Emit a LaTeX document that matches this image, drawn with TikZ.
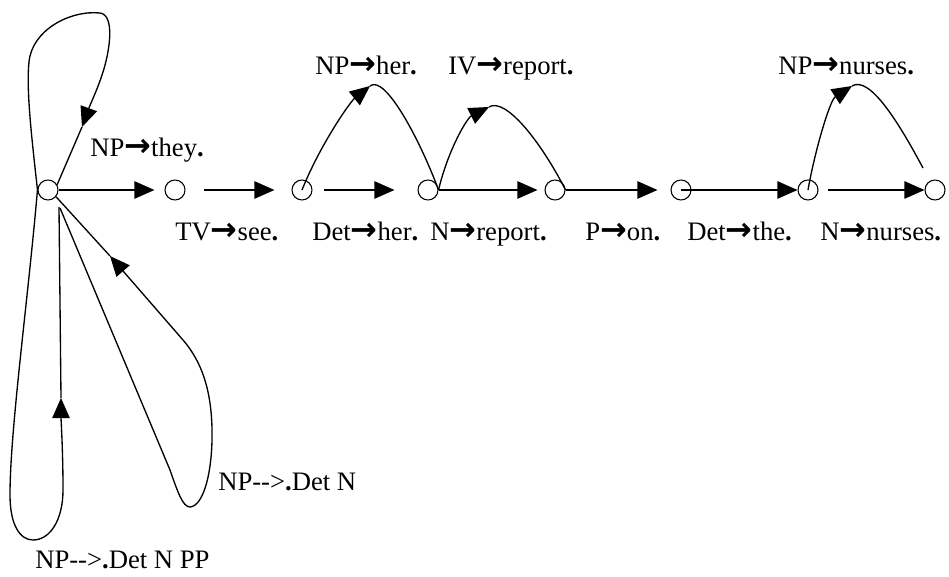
\documentclass[tikz,border=0pt]{standalone}
\usepackage{fontspec}
\setmainfont{Liberation Serif}
\newfontfamily\arrowfont{DejaVu Sans}[Scale=1.2]
\usetikzlibrary{arrows.meta}
\newcommand{\garr}{{\arrowfont\bfseries →}}
\newcommand{\bdot}{{\bfseries .}}
\begin{document}
\begin{tikzpicture}[x=0.75pt,y=-0.75pt,
  st/.style={circle,draw,line width=0.8pt,minimum size=15pt,inner sep=0pt},
  edge/.style={line width=1pt,-{Triangle[length=15pt,width=13pt]}},
  plain/.style={line width=1pt},
  lab/.style={anchor=base west,inner sep=0pt,font=\fontsize{20}{24}\selectfont}]
\useasboundingbox (0,0) rectangle (949,577);
% states
\node[st] (n0) at (48,190) {};
\node[st] (n1) at (175,190) {};
\node[st] (n2) at (302,190) {};
\node[st] (n3) at (428,190) {};
\node[st] (n4) at (555,190) {};
\node[st] (n5) at (681,190) {};
\node[st] (n6) at (808,190) {};
\node[st] (n7) at (935,190) {};
% horizontal transitions
\draw[edge,shorten >=7.5pt] (n0) -- (n1);
\draw[edge,shorten <=13.5pt,shorten >=12.75pt] (n1) -- (n2);
\draw[edge,shorten <=8.25pt,shorten >=17.25pt] (n2) -- (n3);
\draw[edge,shorten >=5.25pt] (n3) -- (n4);
\draw[edge,shorten >=9.75pt] (n4) -- (n5);
\draw[edge] (n5.center) -- (n6);
\draw[edge,shorten <=6.75pt] (n6) -- (n7);
% arcs above
\coordinate (p1) at (370,86);
\draw[edge] (n2.center) .. controls (320,145) and (350,102) .. (p1);
\draw[plain] (p1) .. controls (385,74) and (420,140) .. (n3.east);
\coordinate (p2) at (489,107);
\draw[edge] (n3.east) .. controls (448,150) and (467,118) .. (p2);
\draw[plain] (p2) .. controls (505,97) and (540,140) .. (n4.east);
\coordinate (p3) at (852,86);
\coordinate (e3) at (923,168);
\draw[edge] (n6.center) .. controls (815,150) and (830,100) .. (p3);
\draw[plain] (p3) .. controls (870,75) and (900,125) .. (e3);
% top loop
\coordinate (t1) at (82,127);
\draw[edge] (n0.west) .. controls (32,140) and (26,90) .. (29,62) .. controls (32,30) and (70,10) .. (100,13) .. controls (115,15) and (110,50) .. (103,72) .. controls (98,88) and (90,105) .. (t1);
\draw[plain] (t1) -- (n0.30);
% bottom loop
\coordinate (b1) at (61,398);
\coordinate (b2) at (59,207);
\draw[edge] (n0.west) .. controls (28,300) and (10,430) .. (10,495) .. controls (10,525) and (20,540) .. (33,540) .. controls (50,540) and (63,520) .. (63,490) .. controls (63,450) and (61,420) .. (b1);
\draw[plain] (b1) -- (b2);
% third loop
\coordinate (c0) at (60,208);
\coordinate (c1) at (110,256);
\draw[edge] (c0) -- (170,470) .. controls (178,493) and (183,507) .. (190,507) .. controls (204,506) and (213,470) .. (212,428) .. controls (211,390) and (202,362) .. (183,340) -- (c1);
\draw[plain] (c1) -- (n0.-40);
% labels
\node[lab] (l1) at (90,157) {NP\garr they\bdot};
\node[lab] (l2) at (175,241) {TV\garr see\bdot};
\node[lab] (l3) at (312,241) {Det\garr her\bdot};
\node[lab] (l4) at (430,241) {N\garr report\bdot};
\node[lab] (l5) at (585,241) {P\garr on\bdot};
\node[lab] (l6) at (687,241) {Det\garr the\bdot};
\node[lab] (l7) at (820,241) {N\garr nurses\bdot};
\node[lab] (l8) at (315,75) {NP\garr her\bdot};
\node[lab] (l9) at (448,75) {IV\garr report\bdot};
\node[lab] (l10) at (778,75) {NP\garr nurses\bdot};
\node[lab] (l11) at (218,490) {NP-{}->\bdot Det N};
\node[lab] (l12) at (35,568) {NP-{}->\bdot Det N PP};
\end{tikzpicture}
\end{document}
